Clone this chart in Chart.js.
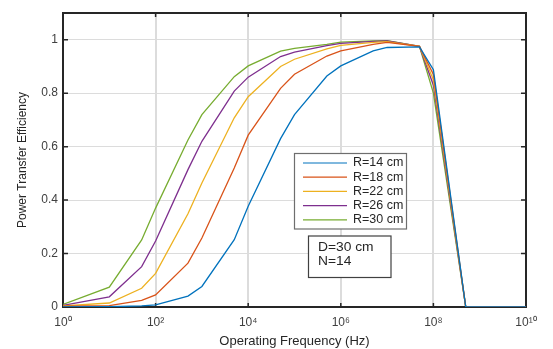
<!DOCTYPE html>
<html lang="en">
<head>
    <meta charset="UTF-8">
    <title>Power Transfer Efficiency</title>
    <script src="https://cdn.jsdelivr.net/npm/chart.js"></script>
    <style>
        body { margin: 0; background: #fff; }
    </style>
</head>
<body>
<canvas id="chart" width="553" height="349"></canvas>

<script>
    // frequencies (Hz) of the simulated points
    const freqs = [1, 10, 50, 100, 500, 1e3, 5e3, 1e4, 5e4, 1e5, 5e5, 1e6, 5e6, 1e7, 5e7, 1e8, 5e8, 1e9, 1e10];

    const r14 = [0, 0.001, 0.004, 0.008, 0.041, 0.077, 0.252, 0.377, 0.630, 0.720, 0.864, 0.902, 0.958, 0.971, 0.973, 0.888, 0, 0, 0];
    const r18 = [0.003, 0.005, 0.025, 0.045, 0.164, 0.258, 0.520, 0.643, 0.818, 0.871, 0.939, 0.958, 0.983, 0.990, 0.975, 0.870, 0, 0, 0];
    const r22 = [0.004, 0.015, 0.070, 0.126, 0.349, 0.464, 0.708, 0.787, 0.900, 0.927, 0.966, 0.979, 0.990, 0.993, 0.975, 0.850, 0, 0, 0];
    const r26 = [0.006, 0.038, 0.151, 0.247, 0.514, 0.620, 0.808, 0.860, 0.937, 0.954, 0.978, 0.986, 0.994, 0.996, 0.975, 0.830, 0, 0, 0];
    const r30 = [0.010, 0.074, 0.251, 0.370, 0.625, 0.720, 0.862, 0.902, 0.957, 0.968, 0.983, 0.991, 0.996, 0.997, 0.975, 0.800, 0, 0, 0];

    const seriesNames = ['R=14 cm', 'R=18 cm', 'R=22 cm', 'R=26 cm', 'R=30 cm'];
    const seriesColors = ['#0072BD', '#D95319', '#EDB120', '#7E2F8E', '#77AC30'];

    const xTickVals = [1, 1e2, 1e4, 1e6, 1e8, 1e10];
    const xTickLabels = ['10\u2070', '10\u00b2', '10\u2074', '10\u2076', '10\u2078', '10\u00b9\u2070'];
    const yTickVals = [0, 0.2, 0.4, 0.6, 0.8, 1];

    const noteLines = ['D=30 cm', 'N=14'];

    const allSeries = [r14, r18, r22, r26, r30];
    const datasets = allSeries.map((vals, i) => ({
        label: seriesNames[i],
        data: freqs.map((f, j) => ({x: f, y: vals[j]})),
        borderColor: seriesColors[i],
        backgroundColor: seriesColors[i],
        borderWidth: 1.3,
        pointRadius: 0,
        tension: 0,
        fill: false
    }));

    function stretchedText(ctx, text, x, y, sx) {
        ctx.save();
        ctx.translate(x, y);
        ctx.scale(sx, 1);
        ctx.fillText(text, 0, 0);
        ctx.restore();
    }

    const frame = {
        id: 'frame',
        beforeDatasetsDraw(chart) {
            const {ctx, chartArea: a, scales: {x, y}} = chart;
            ctx.save();
            ctx.strokeStyle = '#262626';
            ctx.lineWidth = 1.5;
            ctx.beginPath();
            xTickVals.forEach(v => {
                const px = x.getPixelForValue(v);
                ctx.moveTo(px, a.bottom); ctx.lineTo(px, a.bottom - 4);
                ctx.moveTo(px, a.top); ctx.lineTo(px, a.top + 4);
            });
            yTickVals.forEach(v => {
                const py = y.getPixelForValue(v);
                ctx.moveTo(a.left, py); ctx.lineTo(a.left + 5, py);
                ctx.moveTo(a.right, py); ctx.lineTo(a.right - 5, py);
            });
            ctx.stroke();
            ctx.lineWidth = 2;
            ctx.strokeRect(a.left, a.top, a.right - a.left, a.bottom - a.top);
            ctx.restore();
        },
        afterDraw(chart) {
            const {ctx} = chart;
            ctx.save();
            // legend box
            const lx = 294.5, ly = 153.5, lw = 112, lh = 75.5;
            ctx.fillStyle = '#fff';
            ctx.fillRect(lx, ly, lw, lh);
            ctx.strokeStyle = '#6e6e6e';
            ctx.lineWidth = 1.2;
            ctx.strokeRect(lx, ly, lw, lh);
            ctx.font = '12px "Liberation Sans", Arial, sans-serif';
            ctx.textBaseline = 'middle';
            ctx.textAlign = 'left';
            chart.data.datasets.forEach((ds, i) => {
                const yy = 163 + i * 14.2;
                ctx.strokeStyle = ds.borderColor;
                ctx.lineWidth = 1.2;
                ctx.beginPath();
                ctx.moveTo(303, yy); ctx.lineTo(347, yy);
                ctx.stroke();
                ctx.fillStyle = '#262626';
                stretchedText(ctx, ds.label, 353, yy, 1.04);
            });

            // text box
            const bx = 308.5, by = 236, bw = 82.5, bh = 41.5;
            ctx.fillStyle = '#fff';
            ctx.fillRect(bx, by, bw, bh);
            ctx.strokeStyle = '#404040';
            ctx.lineWidth = 1.2;
            ctx.strokeRect(bx, by, bw, bh);
            ctx.fillStyle = '#262626';
            noteLines.forEach((t, i) => stretchedText(ctx, t, 318, 247.5 + i * 14.5, 1.15));
            ctx.restore();
        }
    };

    new Chart(document.getElementById('chart'), {
        type: 'line',
        data: {datasets: datasets},
        options: {
            responsive: false,
            animation: false,
            devicePixelRatio: 1,
            layout: {padding: {left: 0, right: 27, top: 13, bottom: 0}},
            plugins: {
                legend: {display: false},
                tooltip: {enabled: false}
            },
            scales: {
                x: {
                    type: 'logarithmic',
                    min: 1,
                    max: 1e10,
                    afterBuildTicks: s => { s.ticks = xTickVals.map(v => ({value: v})); },
                    afterFit: s => { s.height = 42; },
                    border: {display: false},
                    grid: {color: '#dcdcdc', lineWidth: 2, drawTicks: false},
                    ticks: {
                        padding: 8,
                        color: '#404040',
                        font: {family: '"Liberation Sans", Arial, sans-serif', size: 12},
                        maxRotation: 0,
                        callback: (v) => {
                            const k = xTickVals.indexOf(v);
                            return k >= 0 ? xTickLabels[k] : '';
                        }
                    },
                    title: {
                        display: true,
                        text: 'Operating Frequency (Hz)',
                        color: '#262626',
                        font: {family: '"Liberation Sans", Arial, sans-serif', size: 13},
                        padding: {top: 0, bottom: 0}
                    }
                },
                y: {
                    min: 0,
                    max: 1.1,
                    afterBuildTicks: s => { s.ticks = yTickVals.map(v => ({value: v})); },
                    afterFit: s => { s.width = 63; },
                    border: {display: false},
                    grid: {color: '#dcdcdc', lineWidth: 1, drawTicks: false},
                    ticks: {
                        padding: 5,
                        color: '#404040',
                        font: {family: '"Liberation Sans", Arial, sans-serif', size: 12},
                        callback: v => String(Math.round(v * 10) / 10)
                    },
                    title: {
                        display: true,
                        text: 'Power Transfer Efficiency',
                        color: '#262626',
                        font: {family: '"Liberation Sans", Arial, sans-serif', size: 12},
                        padding: {top: 15, bottom: 0}
                    }
                }
            }
        },
        plugins: [frame]
    });
</script>
</body>
</html>
